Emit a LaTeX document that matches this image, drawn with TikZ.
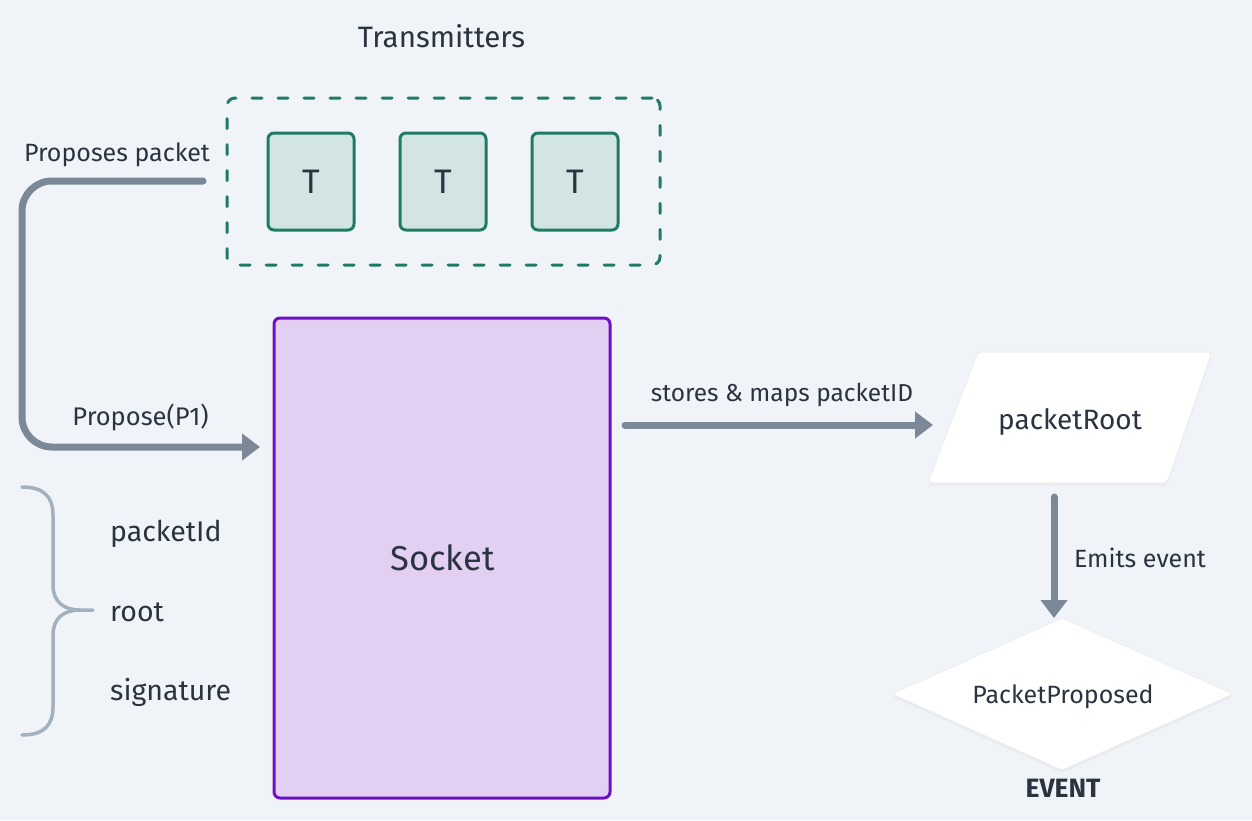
\documentclass[tikz,border=0pt]{standalone}
\usepackage{fontspec}
\setmainfont{Fira Sans}
\usetikzlibrary{arrows.meta,shadows,calc}
\definecolor{bg}{HTML}{F0F4F8}
\definecolor{tgreen}{HTML}{1F7A66}
\definecolor{tfill}{HTML}{D2E5E2}
\definecolor{sockfill}{HTML}{E2CFF2}
\definecolor{sockline}{HTML}{6E0FC6}
\definecolor{conn}{HTML}{7A8898}
\definecolor{bracecol}{HTML}{A3B1BF}
\definecolor{ink}{HTML}{2A3441}
\newcommand\fsz[1]{\fontsize{#1}{#1}\selectfont}
\tikzset{
  lbl/.style={inner sep=0pt, text=ink, anchor=base},
  tbox/.style={draw=tgreen, fill=tfill, line width=3pt, rounded corners=6pt,
    minimum width=86pt, minimum height=97pt, text=ink, font=\fsz{34}},
  connline/.style={draw=conn, line width=7pt, line cap=round,
    -{Triangle[length=18pt,width=26pt]}},
  whiteshape/.style={fill=white, draw=black!8, line width=0.6pt, rounded corners=4pt,
    drop shadow={opacity=0.06, shadow xshift=0pt, shadow yshift=-3pt}},
}
\begin{document}
\begin{tikzpicture}[x=1pt,y=-1pt]
\fill[bg] (0,0) rectangle (1252,820);
\useasboundingbox (0,0) rectangle (1252,820);

% Transmitters group
\node[lbl, font=\fsz{29.5}] (title) at (441.5,47) {Transmitters};
\node[draw=tgreen, line width=3pt, line cap=round, dash pattern=on 10pt off 16pt,
  rounded corners=8pt, minimum width=433pt, minimum height=167pt] (grp) at (443.5,181.5) {};
\node[tbox] (t1) at (311,181.5) {T};
\node[tbox] (t2) at (443,181.5) {T};
\node[tbox] (t3) at (575,181.5) {T};

% Socket
\node[draw=sockline, fill=sockfill, line width=3pt, rounded corners=6pt,
  minimum width=336pt, minimum height=480pt] (sock) at (442,558) {};
\node[lbl, font=\fsz{34.5}] (socktxt) at (442.5,570) {Socket};

% propose connector
\coordinate (pstart) at (203,181);
\coordinate (pend) at (260,447);
\draw[connline, rounded corners=30pt] (pstart) -- (22,181) -- (22,447) -- (pend);
\node[lbl, font=\fsz{25}] (proplbl) at (117,161) {Proposes packet};
\node[lbl, font=\fsz{25.5}] (p1lbl) at (140.5,425) {Propose(P1)};

% brace
\draw[bracecol, line width=3.5pt, line cap=round]
  (22,487) .. controls (44,487) and (53,497) .. (53,515) -- (53,585)
  .. controls (53,602) and (64,610) .. (80,610) -- (93,610);
\draw[bracecol, line width=3.5pt, line cap=round]
  (80,610) .. controls (64,610) and (53,618) .. (53,635) -- (53,707)
  .. controls (53,725) and (44,735) .. (22,735);
\node[lbl, anchor=base west, font=\fsz{28.5}] (f1) at (110,541) {packetId};
\node[lbl, anchor=base west, font=\fsz{28.5}] (f2) at (110,621) {root};
\node[lbl, anchor=base west, font=\fsz{28.5}] (f3) at (110,700) {signature};

% packetRoot
\path[whiteshape] (978,352) -- (1212,352) -- (1167,483) -- (928,483) -- cycle;
\node[lbl, font=\fsz{28}] (root) at (1070,429) {packetRoot};
\coordinate (sstart) at (625,425);
\coordinate (send) at (933,425);
\draw[connline] (sstart) -- (send);
\node[lbl, font=\fsz{24.5}] (storelbl) at (782,401) {stores \& maps packetID};

% event
\path[whiteshape, rounded corners=3pt] (1062,618) -- (1233,694) -- (1062,770) -- (892,694) -- cycle;
\node[lbl, font=\fsz{25}] (evt) at (1063,703) {PacketProposed};
\coordinate (estart) at (1054,497);
\coordinate (eend) at (1054,618);
\draw[connline] (estart) -- (eend);
\node[lbl, font=\fsz{25}] (emitlbl) at (1140,567) {Emits event};
\node[lbl, font=\bfseries\fsz{26.5}] (evtcap) at (1063,797) {EVENT};
\end{tikzpicture}
\end{document}
